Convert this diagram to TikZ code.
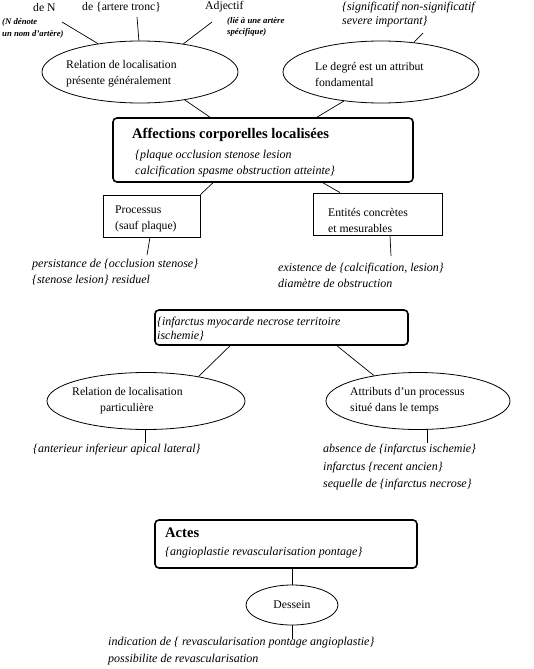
\documentclass[tikz,border=0pt]{standalone}
\usepackage{fontspec}
\setmainfont{Liberation Serif}
\usetikzlibrary{shapes.geometric,calc}
\begin{document}
\begin{tikzpicture}[x=1pt,y=-1pt,
  txt/.style={anchor=west,inner sep=0pt,align=left,font=\fontsize{11.7}{16}\selectfont},
  itxt/.style={anchor=west,inner sep=0pt,align=left,font=\fontsize{12}{16}\selectfont\itshape},
  note/.style={anchor=west,inner sep=0pt,align=left,font=\fontsize{8.7}{11.5}\selectfont\bfseries\itshape},
  oval/.style={draw,ellipse,inner sep=0pt,line width=0.8pt},
  rbox/.style={draw,rectangle,rounded corners=4pt,line width=1.6pt,inner sep=0pt},
  sbox/.style={draw,rectangle,line width=0.8pt,inner sep=0pt},
  conn/.style={line width=0.7pt}]
\useasboundingbox (0,0) rectangle (534,669);
% top labels
\node[txt] (deN) at (33,7) {de N};
\node[txt] (tronc) at (82,7) {de \{artere tronc\}};
\node[txt] (adj) at (205,7) {Adjectif};
\node[note] (nnote) at (2,28.5) {(N dénote\\un nom d'artère)};
\node[note] (lnote) at (227,27) {(lié à une artère\\spécifique)};
\node[itxt,font=\fontsize{12}{14}\selectfont\itshape] (sig) at (342,15) {\{significatif non-significatif\\severe important\}};
% ellipses top
\node[oval,minimum width=196pt,minimum height=62pt] (e1) at (140,72) {};
\node[oval,minimum width=196pt,minimum height=62pt] (e2) at (381,72) {};
\node[txt] (e1t) at (66,74) {Relation de localisation\\présente généralement};
\node[txt] (e2t) at (315,74) {Le degré est un attribut\\fondamental};
\coordinate (deNE) at (62,22);
\coordinate (troncE) at (137,17);
\coordinate (adjE) at (212,22);
\coordinate (sigE) at (423,33);
\draw[conn] (deNE) -- (e1.146);
\draw[conn] (troncE) -- (e1.92);
\draw[conn] (adjE) -- (e1.33);
\draw[conn] (sigE) -- (e2.42);
% box 1
\node[rbox,minimum width=300pt,minimum height=64pt] (b1) at (263,150) {};
\draw[conn] (e1.-32) -- ([xshift=-53pt]b1.north);
\draw[conn] (e2.-142) -- ([xshift=54pt]b1.north);
\node[txt,font=\fontsize{14.6}{18}\selectfont\bfseries] (b1h) at (132,135) {Affections corporelles localisées};
\node[itxt] (b1i) at (135,163.5) {\{plaque occlusion stenose lesion\\calcification spasme obstruction atteinte\}};
% processus / entites
\node[sbox,minimum width=97pt,minimum height=42pt] (p) at (151.5,216) {};
\draw[conn] ([xshift=-50pt]b1.south) -- (p.north east);
\node[txt] (pt) at (115,219) {Processus\\(sauf plaque)};
\node[sbox,minimum width=129pt,minimum height=42pt] (en) at (377.5,214) {};
\draw[conn] ([xshift=60pt]b1.south) -- ([xshift=-37.5pt]en.north);
\node[txt] (ent) at (328,220.5) {Entités concrètes\\et mesurables};
\coordinate (pE) at (147,255);
\draw[conn] ([xshift=-1.5pt]p.south) -- (pE);
\node[itxt] (pl) at (32,272) {persistance de \{occlusion stenose\}\\\{stenose lesion\} residuel};
\coordinate (enE) at (391,256);
\draw[conn] ([xshift=12.5pt]en.south) -- (enE);
\node[itxt] (enl) at (278,275) {existence de \{calcification, lesion\}\\diamètre de obstruction};
% box 2
\node[rbox,minimum width=253pt,minimum height=35pt] (b2) at (281.5,327.5) {};
\node[itxt,font=\fontsize{12}{14}\selectfont\itshape] (b2t) at (157,329) {\{infarctus myocarde necrose territoire\\ischemie\}};
\node[oval,minimum width=198pt,minimum height=57pt] (e3) at (146,401) {};
\node[oval,minimum width=184pt,minimum height=57pt] (e4) at (418,401) {};
\draw[conn] ([xshift=-51.5pt]b2.south) -- (e3.25);
\draw[conn] ([xshift=55.5pt]b2.south) -- (e4.150);
\node[txt] (e3t) at (72,401) {Relation de localisation\\\hspace*{28pt}particulière};
\node[txt] (e4t) at (350,401) {Attributs d'un processus\\situé dans le temps};
\coordinate (e3E) at (145,443);
\draw[conn] (e3.south -| e3E) -- (e3E);
\node[itxt] (e3l) at (33,450) {\{anterieur inferieur apical lateral\}};
\coordinate (e4E) at (427,443);
\draw[conn] (e4.south -| e4E) -- (e4E);
\node[itxt,font=\fontsize{12}{17.5}\selectfont\itshape] (e4l) at (323,467.5) {absence de \{infarctus ischemie\}\\infarctus \{recent ancien\}\\sequelle de \{infarctus necrose\}};
% box 3
\node[rbox,minimum width=262pt,minimum height=48pt] (b3) at (286,544) {};
\node[txt,font=\fontsize{14.6}{18}\selectfont\bfseries] (b3h) at (165,533) {Actes};
\node[itxt] (b3i) at (165,553) {\{angioplastie revascularisation pontage\}};
\node[oval,minimum width=92pt,minimum height=40pt,font=\fontsize{11.7}{16}\selectfont] (d) at (292,605) {Dessein};
\draw[conn] ([xshift=6pt]b3.south) -- (d.north);
\coordinate (dE) at (292,639);
\draw[conn] (d.south) -- (dE);
\node[itxt,font=\fontsize{12}{17}\selectfont\itshape] (dl) at (108,651.5) {indication de \{ revascularisation pontage angioplastie\}\\possibilite de revascularisation};
\end{tikzpicture}
\end{document}
